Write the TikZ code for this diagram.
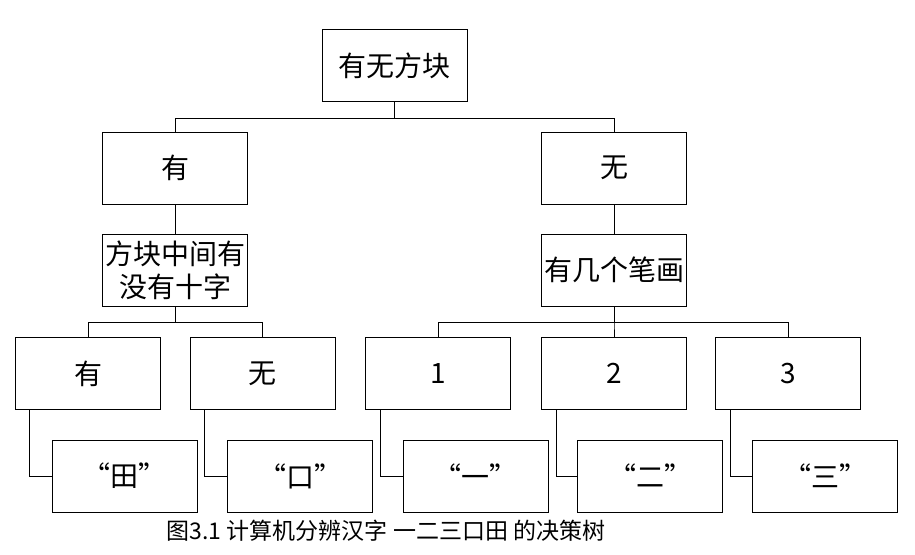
\documentclass[tikz,border=0pt]{standalone}
\usepackage{fontspec}
\setmainfont{Noto Sans CJK SC}
\usepackage{tikz}

\begin{document}
\begin{tikzpicture}[x=1pt,y=-1pt]
    \tikzstyle{box} = [draw, line width=1pt, minimum width=145pt, minimum height=72pt,
        inner sep=1pt, align=center, font=\fontsize{28}{33}\selectfont]
    \tikzstyle{wire} = [draw, line width=1pt]
    \useasboundingbox (0,0) rectangle (915,554);

    \node[box] (root) at (394.5,65.5) {有无方块};
    \node[box] (you) at (175,168) {有};
    \node[box] (wu) at (614,168) {无};
    \node[box] (cross) at (175,270) {方块中间有\\没有十字};
    \node[box] (count) at (614,270) {有几个笔画};

    \node[box] (you2) at (88,373.5) {有};
    \node[box] (wu2) at (262.5,373.5) {无};
    \node[box] (one) at (438,373.5) {1};
    \node[box] (two) at (614,373.5) {2};
    \node[box] (three) at (788,373.5) {3};

    \node[box] (tian) at (124.5,476) {“田”};
    \node[box] (kou) at (300,476) {“口”};
    \node[box] (yi) at (475.5,476) {“一”};
    \node[box] (er) at (650,476) {“二”};
    \node[box] (san) at (825,476) {“三”};

    \node[font=\fontsize{23}{27}\selectfont] (caption) at (386,531)
        {图3.1 计算机分辨汉字 一二三口田 的决策树};

    \draw[wire] (root.south) -- ++(0,16) -| (you.north);
    \draw[wire] (root.south) -- ++(0,16) -| (wu.north);
    \draw[wire] (you) -- (cross);
    \draw[wire] (wu) -- (count);
    \draw[wire] (cross.south) -- ++(0,16) -| (you2.north);
    \draw[wire] (cross.south) -- ++(0,16) -| (wu2.north);
    \draw[wire] (count.south) -- ++(0,16) -| (one.north);
    \draw[wire] (count.south) -- ++(0,16) -| (two.north);
    \draw[wire] (count.south) -- ++(0,16) -| (three.north);

    \draw[wire] ([xshift=14pt]you2.south west) |- (tian.west);
    \draw[wire] ([xshift=15pt]wu2.south west) |- (kou.west);
    \draw[wire] ([xshift=15pt]one.south west) |- (yi.west);
    \draw[wire] ([xshift=15pt]two.south west) |- (er.west);
    \draw[wire] ([xshift=15pt]three.south west) |- (san.west);
\end{tikzpicture}
\end{document}
